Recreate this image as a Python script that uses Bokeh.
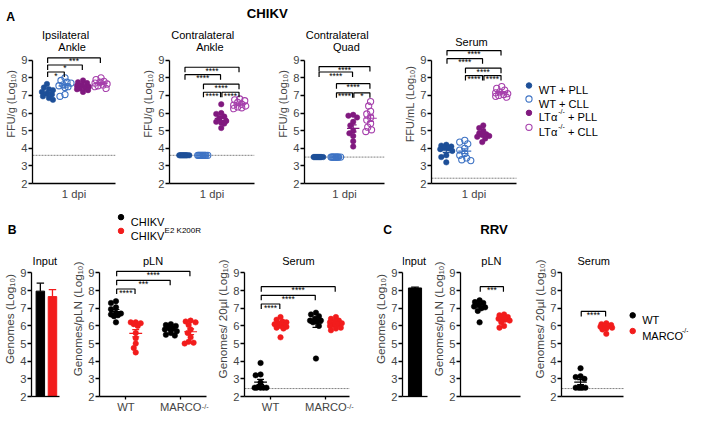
import numpy as np
from bokeh.plotting import figure
from bokeh.models import Range1d, FixedTicker, Label, LinearAxis
from bokeh.layouts import column, row
from bokeh.embed import file_html
from bokeh.resources import INLINE
from bokeh.core.properties import value

# ---------------- data ----------------
y_ticks = [2, 3, 4, 5, 6, 7, 8, 9]

a_names = ["WT + PLL", "WT + CLL", "LTα-/- + PLL", "LTα-/- + CLL"]
a_titles = [["Ipsilateral", "Ankle"], ["Contralateral", "Ankle"], ["Contralateral", "Quad"], ["Serum"]]
a_ylabels = ["FFU/g (Log₁₀)", "FFU/g (Log₁₀)", "FFU/g (Log₁₀)", "FFU/mL (Log₁₀)"]
a_xlabel = "1 dpi"

ipsi_wt_pll = [7.65, 7.45, 7.35, 7.3, 7.2, 7.1, 7.05, 6.95, 6.85, 6.75]
ipsi_wt_cll = [8.0, 7.85, 7.75, 7.7, 7.6, 7.55, 7.5, 7.45, 7.05, 6.95]
ipsi_lta_pll = [7.85, 7.75, 7.7, 7.6, 7.55, 7.5, 7.45, 7.4, 7.35, 7.3, 7.2]
ipsi_lta_cll = [8.0, 7.9, 7.8, 7.75, 7.7, 7.65, 7.6, 7.55, 7.5, 7.4]
ipsi_lod = 3.6
ipsi_brackets = [(0, 1, 8.33, "*"), (0, 2, 8.73, "*"), (0, 3, 9.13, "***")]

cankle_wt_pll = [3.6, 3.6, 3.6, 3.6, 3.6, 3.6, 3.6, 3.6, 3.6, 3.6]
cankle_wt_cll = [3.6, 3.6, 3.6, 3.6, 3.6, 3.6, 3.6, 3.6, 3.6, 3.6]
cankle_lta_pll = [6.5, 6.0, 5.95, 5.8, 5.7, 5.55, 5.5, 5.45, 5.4, 5.15]
cankle_lta_cll = [6.8, 6.75, 6.7, 6.6, 6.5, 6.45, 6.4, 6.35, 6.3, 6.25]
cankle_lod = 3.6
cankle_brackets = [(0, 3, 8.6, "****"), (0, 2, 8.18, "****"), (1, 3, 7.64, "****"),
                   (1, 2, 7.18, "****"), (2, 3, 7.18, "****")]

cquad_wt_pll = [3.5, 3.5, 3.5, 3.5, 3.5, 3.5, 3.5, 3.5, 3.5, 3.5]
cquad_wt_cll = [3.5, 3.5, 3.5, 3.5, 3.5, 3.5, 3.5, 3.5, 3.5, 3.5]
cquad_lta_pll = [5.9, 5.85, 5.75, 5.5, 5.3, 5.0, 4.85, 4.7, 4.4, 4.1]
cquad_lta_cll = [6.65, 6.4, 6.1, 5.95, 5.75, 5.6, 5.4, 5.2, 5.05, 4.95]
cquad_lod = 3.5
cquad_brackets = [(0, 3, 8.64, "****"), (0, 2, 8.33, "****"), (1, 3, 7.67, "****"),
                  (1, 2, 7.15, "****"), (2, 3, 7.15, "*")]

serumA_wt_pll = [4.2, 4.15, 4.1, 4.05, 4.0, 3.95, 3.85, 3.6, 3.5, 3.2]
serumA_wt_cll = [4.45, 4.35, 4.25, 4.0, 3.9, 3.7, 3.6, 3.45, 3.35, 3.3]
serumA_lta_pll = [5.3, 5.15, 5.0, 4.85, 4.8, 4.75, 4.7, 4.65, 4.55, 4.35]
serumA_lta_cll = [7.5, 7.4, 7.3, 7.2, 7.15, 7.1, 7.05, 7.0, 6.95, 6.9]
serumA_lod = 2.3
serumA_brackets = [(0, 3, 9.55, "****"), (0, 2, 9.09, "****"), (1, 3, 8.55, "****"),
                   (1, 2, 8.13, "****"), (2, 3, 8.13, "****")]

b_names = ["CHIKV", "CHIKV^E2 K200R"]
b_categories = ["WT", "MARCO-/-"]
b_titles = ["Input", "pLN", "Serum"]
b_ylabels = ["Genomes (Log₁₀)", "Genomes/pLN (Log₁₀)", "Genomes/ 20µl (Log₁₀)"]

inputB_mean = [7.97, 7.66]
inputB_err = [0.45, 0.4]

plnB_wt_chikv = [7.4, 7.3, 7.05, 6.95, 6.75, 6.7, 6.65, 6.6, 6.55, 6.2]
plnB_wt_k200r = [6.2, 6.2, 6.15, 6.1, 6.0, 5.6, 5.3, 5.0, 4.75, 4.5]
plnB_marco_chikv = [6.1, 6.05, 6.0, 5.95, 5.85, 5.8, 5.7, 5.6, 5.5, 5.45]
plnB_marco_k200r = [6.3, 6.25, 6.2, 6.05, 5.8, 5.6, 5.35, 5.1, 5.05, 5.0]
plnB_brackets = [(0, 3, 9.09, "****"), (0, 2, 8.58, "***"), (0, 1, 8.09, "****")]

serumB_wt_chikv = [3.9, 3.25, 3.2, 2.8, 2.55, 2.5, 2.5, 2.5, 2.5, 2.5]
serumB_wt_k200r = [6.5, 6.35, 6.25, 6.2, 6.15, 6.1, 6.05, 6.0, 5.95, 5.9, 5.85, 5.35]
serumB_marco_chikv = [6.75, 6.65, 6.55, 6.4, 6.3, 6.3, 6.25, 6.2, 6.0, 4.15]
serumB_marco_k200r = [6.5, 6.4, 6.3, 6.25, 6.2, 6.15, 6.1, 6.05, 6.0, 5.9, 5.85, 5.75]
serumB_lod = 2.45
serumB_brackets = [(0, 3, 8.22, "****"), (0, 2, 7.73, "****"), (0, 1, 7.24, "****")]

c_names = ["WT", "MARCO-/-"]
c_titles = ["Input", "pLN", "Serum"]

inputC_mean = [8.15]
inputC_err = [0.05]

plnC_wt = [7.45, 7.35, 7.3, 7.2, 7.1, 7.05, 7.0, 6.85, 6.2]
plnC_marco = [6.65, 6.6, 6.5, 6.45, 6.4, 6.35, 6.3, 6.2, 6.0, 5.9]
plnC_brackets = [(0, 1, 8.22, "***")]

serumC_wt = [3.6, 3.15, 3.1, 3.0, 2.5, 2.5, 2.5, 2.5, 2.5]
serumC_marco = [6.15, 6.1, 6.05, 6.0, 6.0, 5.95, 5.9, 5.85, 5.8, 5.55]
serumC_lod = 2.45
serumC_brackets = [(0, 1, 6.82, "****")]

# ---------------- style / layout ----------------
FONT = "Liberation Sans"
BLUE, BLUE_O, PURP, PURP_O = "#1d4f98", "#3e73c4", "#80197f", "#a640ac"
RED, BLACK = "#f21c1c", "#000000"
LOD_COLOR = "#808080"

SX = 692 / 708
SY = 415 / 431


def px(v):
    return int(round(v * SX))


def py(v):
    return int(round(v * SY))


ARIAL = {" ": 278, "+": 584, "-": 333, "/": 278, "A": 667, "B": 667, "C": 722, "E": 667, "H": 722,
         "I": 278, "K": 667, "L": 556, "M": 833, "N": 722, "O": 778, "P": 667, "R": 722, "T": 611,
         "V": 667, "W": 944, "α": 578}


def tw(s, size):
    return sum(ARIAL.get(c, 556) for c in s) * size / 1000.0


ROW_T = dict(c0=py(24.5), c1=py(213), f1=py(190), y0=2.0, ky=18.29 * SY)
ROW_B = dict(c0=py(250), c1=415, f1=py(411.7), y0=2.0, ky=18.33 * SY)
TICK_SZ = 11.5 * SX
SUP_SZ = 7.5 * SX


class Panel:
    def __init__(self, canvas, frame_left, axis_end, frame_right, xs, xe, rowg, ylabel,
                 xticks=(), xlabels=None, tick_out=0, standoff=2, ylab_size=10.5):
        cl, cr = px(canvas[0]), px(canvas[1])
        fl, fe, ff = px(frame_left), px(axis_end), px(frame_right)
        self.fl, self.xs, self.xe = fl, xs, xe
        self.k = (fe - fl) / (xe - xs)
        xfar = xs + (ff - fl) / self.k
        H = rowg["c1"] - rowg["c0"]
        self.ky = rowg["ky"]
        self.fb, self.y0 = rowg["f1"], rowg["y0"]
        ytop = self.y0 + (rowg["f1"] - rowg["c0"]) / self.ky
        p = figure(width=cr - cl, height=H, x_range=Range1d(xs, xfar),
                   y_range=Range1d(self.y0, ytop),
                   min_border_left=fl - cl, min_border_right=cr - ff,
                   min_border_top=0, min_border_bottom=rowg["c1"] - rowg["f1"],
                   toolbar_location=None, tools="", output_backend="svg")
        p.outline_line_color = None
        p.xgrid.visible = False
        p.ygrid.visible = False
        p.background_fill_color = "white"
        p.border_fill_color = "white"
        ya = p.yaxis[0]
        ya.ticker = FixedTicker(ticks=y_ticks)
        ya.bounds = (2, 9)
        ya.axis_label = ylabel
        ya.axis_label_text_font = FONT
        ya.axis_label_text_font_size = f"{ylab_size * SX:.1f}px"
        ya.axis_label_text_font_style = "normal"
        ya.axis_label_standoff = 1
        ya.major_label_text_font = FONT
        ya.major_label_text_font_size = f"{TICK_SZ:.1f}px"
        ya.major_label_standoff = 1
        ya.major_tick_out = 4
        ya.major_tick_in = 0
        ya.minor_tick_out = 0
        ya.minor_tick_in = 0
        ya.axis_line_width = 1.3
        ya.major_tick_line_width = 1.3
        xa = p.xaxis[0]
        xa.ticker = FixedTicker(ticks=list(xticks))
        if xlabels:
            xa.major_label_overrides = dict(zip(xticks, xlabels))
        xa.bounds = (xs, xe)
        xa.axis_line_width = 1.3
        xa.major_tick_line_width = 1.3
        xa.major_tick_out = tick_out
        xa.major_tick_in = 0
        xa.minor_tick_out = 0
        xa.minor_tick_in = 0
        if tick_out == 0:
            xa.major_tick_line_color = None
        xa.major_label_standoff = standoff
        xa.major_label_text_font = FONT
        xa.major_label_text_font_size = f"{TICK_SZ:.1f}px"
        self.p = p

    def dx(self, xp):
        return self.xs + (xp - self.fl) / self.k

    def dy(self, yp):
        return self.y0 + (self.fb - yp) / self.ky


class Header:
    def __init__(self, top_ref, bot_ref):
        t, b = py(top_ref), py(bot_ref)
        self.t = t
        p = figure(width=692, height=b - t, x_range=Range1d(0, 692), y_range=Range1d(b - t, 0),
                   x_axis_type=None, y_axis_type=None, min_border=0,
                   toolbar_location=None, tools="", output_backend="svg")
        p.outline_line_color = None
        p.background_fill_color = "white"
        p.border_fill_color = "white"
        self.p = p

    def dx(self, xp):
        return xp

    def dy(self, yp):
        return yp - self.t


def rich(pan, xr, yr, text, size=11.2, sup_size=7.5, raise_px=5.5, bold=False, align="left"):
    if "^" in text:
        base, sup = text.split("^")
        parts = [(base, False), (sup, True)]
    else:
        pieces = text.split("-/-")
        parts = []
        for i, pc in enumerate(pieces):
            if pc:
                parts.append((pc, False))
            if i < len(pieces) - 1:
                parts.append(("-/-", True))
    sb, ss = size * SX, sup_size * SX
    total = sum(tw(t, ss if sp else sb) for t, sp in parts)
    x = xr * SX - (total / 2 if align == "center" else 0)
    for t, sp in parts:
        sz = ss if sp else sb
        lead = len(t) - len(t.lstrip(" "))
        x += lead * tw(" ", sz)
        t = t.lstrip(" ")
        y = yr * SY - (raise_px * SY if sp else 0)
        pan.p.add_layout(Label(x=pan.dx(x), y=pan.dy(y), text=t, text_font=FONT,
                               text_font_size=f"{sz:.1f}px", text_baseline="alphabetic",
                               text_align="left", text_color="black",
                               text_font_style="bold" if bold else "normal"))
        x += tw(t, sz)


def swarm(vals, k, ky, diam=4.6, step=1.0, maxw=6.5):
    order = np.argsort(-np.array(vals), kind="stable")
    cands = [0.0]
    i = 1
    while i * step <= maxw:
        cands += [-i * step, i * step]
        i += 1
    placed = []
    offs = [0.0] * len(vals)
    for idx in order:
        y = vals[idx] * ky
        chosen = None
        for c in cands:
            if all((c - a) ** 2 + (y - b) ** 2 >= diam ** 2 for a, b in placed):
                chosen = c
                break
        if chosen is None:
            chosen = max(cands, key=lambda c: min((c - a) ** 2 + (y - b) ** 2 for a, b in placed))
        placed.append((chosen, y))
        offs[idx] = chosen / k
    return offs


def group(pan, x, vals, color, filled):
    offs = swarm(vals, pan.k, pan.ky)
    xs_ = [x + o for o in offs]
    if filled:
        pan.p.scatter(xs_, vals, size=5.5, marker="circle", fill_color=color, line_color=color,
                      line_width=0.5)
    else:
        pan.p.scatter(xs_, vals, size=6.2, marker="circle", fill_color=None, line_color=color,
                      line_width=1.1)
    v = np.array(vals, dtype=float)
    m = v.mean()
    s = v.std(ddof=1) / np.sqrt(len(v))
    hw, cw = 6.5 / pan.k, 3.5 / pan.k
    pan.p.segment(x0=[x - hw, x, x - cw, x - cw], y0=[m, m - s, m + s, m - s],
                  x1=[x + hw, x, x + cw, x + cw], y1=[m, m + s, m + s, m - s],
                  line_color=color, line_width=1.2)


def brackets(pan, pos, blist):
    drop = 5.0 / pan.ky
    gap = 0.7 / pan.k
    xs_, ys_, tx, ty, tt = [], [], [], [], []
    for g1, g2, lvl, lab in blist:
        x1, x2 = pos[g1] + gap, pos[g2] - gap
        xs_.append([x1, x1, x2, x2])
        ys_.append([lvl - drop, lvl, lvl, lvl - drop])
        tx.append((pos[g1] + pos[g2]) / 2)
        ty.append(lvl)
        tt.append(lab)
    pan.p.multi_line(xs_, ys_, line_color="black", line_width=1.2)
    pan.p.text(x=tx, y=ty, text=tt, text_font=value(FONT), text_font_size="8.5px",
               text_align="center", text_baseline="alphabetic", y_offset=3.5, text_color="black")


def lod(pan, level):
    pan.p.segment(x0=[pan.xs], y0=[level], x1=[pan.xe], y1=[level], line_color=LOD_COLOR,
                  line_width=1, line_dash="2 1")


# ---------------- panel A ----------------
a_colors = [(BLUE, True), (BLUE_O, False), (PURP, True), (PURP_O, False)]
a_pos = [1, 2, 3, 4]
a_data = [
    ([ipsi_wt_pll, ipsi_wt_cll, ipsi_lta_pll, ipsi_lta_cll], ipsi_lod, ipsi_brackets),
    ([cankle_wt_pll, cankle_wt_cll, cankle_lta_pll, cankle_lta_cll], cankle_lod, cankle_brackets),
    ([cquad_wt_pll, cquad_wt_cll, cquad_lta_pll, cquad_lta_cll], cquad_lod, cquad_brackets),
    ([serumA_wt_pll, serumA_wt_cll, serumA_lta_pll, serumA_lta_cll], serumA_lod, serumA_brackets),
]
a_geom = [((0, 140), 33, 118, 118), ((140, 280), 173, 260, 260), ((280, 410), 307, 393, 393),
          ((410, 708), 441, 528, 700)]
a_title_x = [75.5, 216.5, 350, 481]

top_panels = []
for i, ((canvas, fl, fe, ff), (groups, lodv, br)) in enumerate(zip(a_geom, a_data)):
    pan = Panel(canvas, fl, fe, ff, 0.2, 4.8, ROW_T, a_ylabels[i], xticks=[2.5],
                xlabels=[a_xlabel], tick_out=0, standoff=4, ylab_size=11.3)
    lod(pan, lodv)
    for x, vals, (col, filled) in zip(a_pos, groups, a_colors):
        group(pan, x, vals, col, filled)
    brackets(pan, a_pos, br)
    lines = a_titles[i]
    if len(lines) == 2:
        rich(pan, a_title_x[i], 35.7, lines[0], size=11.3, align="center")
        rich(pan, a_title_x[i], 48.7, lines[1], size=11.3, align="center")
    else:
        rich(pan, a_title_x[i], 43.0, lines[0], size=11.3, align="center")
    top_panels.append(pan)

# legend A (inside the serum panel canvas)
sA = top_panels[3]
leg_y = [88.3, 102.3, 116.7, 131.7]
for name, (col, filled), yy in zip(a_names, a_colors, leg_y):
    if filled:
        sA.p.scatter([sA.dx(540.7 * SX)], [sA.dy(yy * SY)], size=5.5, marker="circle",
                     fill_color=col, line_color=col)
    else:
        sA.p.scatter([sA.dx(540.7 * SX)], [sA.dy(yy * SY)], size=6.2, marker="circle",
                     fill_color=None, line_color=col, line_width=1.1)
    rich(sA, 550.7, yy + 4.8, name, size=11.4, sup_size=7.2, raise_px=5.8)

hdrA = Header(0, 24.5)
rich(hdrA, 6.0, 16.8, "A", size=12.5, bold=True)
rich(hdrA, 272.5, 13.2, "CHIKV", size=13.5, bold=True, align="center")

# ---------------- panel B / C ----------------
hdrB = Header(213, 250)
rich(hdrB, 7.5, 238.7, "B", size=12.5, bold=True)
rich(hdrB, 391.7, 238.7, "C", size=12.5, bold=True)
rich(hdrB, 505, 238.3, "RRV", size=13.5, bold=True, align="center")
b_leg_y = [225.0, 239.3]
for name, col, yy in zip(b_names, [BLACK, RED], b_leg_y):
    hdrB.p.scatter([hdrB.dx(123.3 * SX)], [hdrB.dy(yy * SY)], size=5.5, marker="circle",
                   fill_color=col, line_color=col)
    rich(hdrB, 133.3, yy + 4.9, name, size=11.3, sup_size=8.2, raise_px=5.7)

# Input B
inB = Panel((0, 70), 30, 60, 60, 0.27, 2.58, ROW_B, b_ylabels[0], ylab_size=12)
inB.p.vbar(x=[1, 2], top=inputB_mean, bottom=2, width=0.7, fill_color=[BLACK, RED],
           line_color=[BLACK, RED])
cw = 4.0 / inB.k
for x, m, e, col in zip([1, 2], inputB_mean, inputB_err, [BLACK, RED]):
    inB.p.segment(x0=[x, x - cw], y0=[m, m + e], x1=[x, x + cw], y1=[m + e, m + e],
                  line_color=col, line_width=1.3)

# pLN B
b_pos = [0.82, 1.18, 1.82, 2.18]
b_colors = [BLACK, RED, BLACK, RED]
b_cat_base = [c.split("-/-")[0] for c in b_categories]
plnB = Panel((70, 218), 100, 211, 215, 0.52, 2.47, ROW_B, b_ylabels[1], xticks=[1, 2],
             xlabels=b_cat_base, tick_out=3, standoff=1, ylab_size=12)
for x, vals, col in zip(b_pos, [plnB_wt_chikv, plnB_wt_k200r, plnB_marco_chikv, plnB_marco_k200r],
                        b_colors):
    group(plnB, x, vals, col, True)
brackets(plnB, b_pos, plnB_brackets)

# Serum B
serB = Panel((218, 380), 248, 357, 372, 0.53, 2.43, ROW_B, b_ylabels[2], xticks=[1, 2],
             xlabels=b_cat_base, tick_out=3, standoff=1, ylab_size=12)
lod(serB, serumB_lod)
for x, vals, col in zip(b_pos, [serumB_wt_chikv, serumB_wt_k200r, serumB_marco_chikv,
                                serumB_marco_k200r], b_colors):
    group(serB, x, vals, col, True)
brackets(serB, b_pos, serumB_brackets)

# superscript "-/-" of the MARCO tick labels, as a second (line-less) axis
for pan in (plnB, serB):
    xsup = round(2 + (tw(b_cat_base[1], TICK_SZ) / 2 + tw("-/-", SUP_SZ) / 2 + 0.3) / pan.k, 4)
    ax2 = LinearAxis(ticker=FixedTicker(ticks=[xsup]), major_label_overrides={xsup: "-/-"},
                     axis_line_color=None, major_tick_line_color=None, minor_tick_line_color=None,
                     major_tick_out=0, major_tick_in=0, minor_tick_out=0, minor_tick_in=0,
                     major_label_standoff=-14, major_label_text_font=FONT,
                     major_label_text_font_size=f"{SUP_SZ:.1f}px")
    pan.p.add_layout(ax2, "below")

# Input C
inC = Panel((380, 439), 410, 437, 437, 0.0, 2.0, ROW_B, b_ylabels[0], ylab_size=12)
inC.p.vbar(x=[1], top=inputC_mean, bottom=2, width=1.05, fill_color=BLACK, line_color=BLACK)
cw = 4.0 / inC.k
inC.p.segment(x0=[1, 1 - cw], y0=[inputC_mean[0], inputC_mean[0] + inputC_err[0]],
              x1=[1, 1 + cw], y1=[inputC_mean[0] + inputC_err[0]] * 2,
              line_color=BLACK, line_width=1.3)

# pLN C
c_pos = [1, 2]
plnC = Panel((439, 542), 466, 532, 532, 0.22, 2.67, ROW_B, b_ylabels[1], ylab_size=12)
group(plnC, 1, plnC_wt, BLACK, True)
group(plnC, 2, plnC_marco, RED, True)
brackets(plnC, c_pos, plnC_brackets)

# Serum C
serC = Panel((542, 708), 570, 635, 704, 0.26, 2.67, ROW_B, b_ylabels[2], ylab_size=12)
lod(serC, serumC_lod)
group(serC, 1, serumC_wt, BLACK, True)
group(serC, 2, serumC_marco, RED, True)
brackets(serC, c_pos, serumC_brackets)
c_leg_y = [327.0, 343.3]
for name, col, yy in zip(c_names, [BLACK, RED], c_leg_y):
    serC.p.scatter([serC.dx(645 * SX)], [serC.dy(yy * SY)], size=5.5, marker="circle",
                   fill_color=col, line_color=col)
    rich(serC, 655, yy + 4.8, name, size=11.3, sup_size=7.2, raise_px=5.0)

# titles of the bottom panels
for pan, t, xr in zip([inB, plnB, serB], b_titles, [45, 155.5, 302.5]):
    rich(pan, xr, 270.5, t, size=11.3, align="center")
for pan, t, xr in zip([inC, plnC, serC], c_titles, [423.5, 499, 602.5]):
    rich(pan, xr, 270.5, t, size=11.3, align="center")

layout = column(
    hdrA.p,
    row([pn.p for pn in top_panels], spacing=0),
    hdrB.p,
    row([inB.p, plnB.p, serB.p, inC.p, plnC.p, serC.p], spacing=0),
    spacing=0,
)

with open("out.html", "w") as f:
    f.write(file_html(layout, INLINE))
